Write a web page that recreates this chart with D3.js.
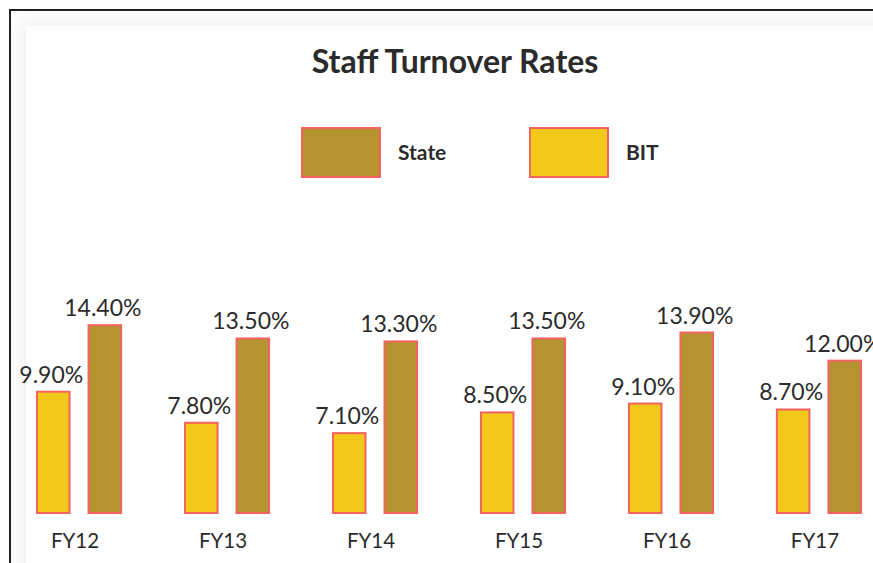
<!DOCTYPE html>
<html>
<head>
<meta charset="utf-8">
<script src="https://cdn.jsdelivr.net/npm/d3@7"></script>
<style>
    html, body { margin: 0; padding: 0; background: #fff; overflow: hidden; }
    #frame {
        position: absolute; left: 9px; top: 9px; width: 900px; height: 600px;
        border-left: 2.5px solid #222; border-top: 2.5px solid #222;
    }
    #card {
        position: absolute; left: 26px; top: 26px; width: 920px; height: 620px;
        background: #fff; box-shadow: 0 0 18px 6px rgba(0, 0, 0, 0.06);
    }
    svg { position: absolute; left: 0; top: 0; }
</style>
</head>
<body>
<div id="frame"></div>
<div id="card"></div>
<svg width="873" height="563"></svg>
<script>
    // data
    let years = ["FY12", "FY13", "FY14", "FY15", "FY16", "FY17"];
    let bitRates = [9.9, 7.8, 7.1, 8.5, 9.1, 8.7];
    let stateRates = [14.4, 13.5, 13.3, 13.5, 13.9, 12.0];
    let seriesNames = ["BIT", "State"];
    let legendNames = ["State", "BIT"];

    let colors = { BIT: "#f2c81a", State: "#b59331" };
    let outline = "#f2625f";

    let svg = d3.select("svg");

    let x = d3.scaleBand()
        .domain(years)
        .range([36, 862])
        .paddingInner(0.418)
        .paddingOuter(0);

    let xSub = d3.scaleBand()
        .domain(seriesNames)
        .range([0, x.bandwidth()])
        .paddingInner(0.33);

    // axis does not start at zero in the original
    let y = d3.scaleLinear()
        .domain([1.7, 15])
        .range([513, 316.3]);

    let rows = years.map(function (yr, i) {
        return { year: yr, BIT: bitRates[i], State: stateRates[i] };
    });

    svg.append("text")
        .attr("x", 455)
        .attr("y", 73)
        .attr("text-anchor", "middle")
        .style("font-family", "Lato")
        .style("font-weight", "bold")
        .style("font-size", "32px")
        .style("fill", "#2b2b2b")
        .text("Staff Turnover Rates");

    // legend
    let legend = svg.append("g").attr("class", "legend");
    legendNames.forEach(function (name, i) {
        let g = legend.append("g").attr("transform", "translate(" + (302 + i * 228) + ",128)");
        g.append("rect")
            .attr("width", 78)
            .attr("height", 49)
            .attr("fill", colors[name])
            .attr("stroke", outline)
            .attr("stroke-width", 2);
        g.append("text")
            .attr("x", 96)
            .attr("y", 32)
            .style("font-family", "Lato")
            .style("font-weight", "bold")
            .style("font-size", "21px")
            .style("fill", "#2b2b2b")
            .text(name);
    });

    let groups = svg.append("g")
        .selectAll("g")
        .data(rows)
        .enter()
        .append("g")
        .attr("transform", function (d) { return "translate(" + x(d.year) + ",0)"; });

    groups.selectAll("rect")
        .data(function (d) { return seriesNames.map(function (k) { return { key: k, value: d[k] }; }); })
        .enter()
        .append("rect")
        .attr("x", function (d) { return xSub(d.key) + 1; })
        .attr("y", function (d) { return y(d.value); })
        .attr("width", xSub.bandwidth() - 2)
        .attr("height", function (d) { return y.range()[0] - y(d.value); })
        .attr("fill", function (d) { return colors[d.key]; })
        .attr("stroke", outline)
        .attr("stroke-width", 2);

    groups.selectAll("text.value")
        .data(function (d) { return seriesNames.map(function (k) { return { key: k, value: d[k] }; }); })
        .enter()
        .append("text")
        .attr("class", "value")
        .attr("x", function (d) { return xSub(d.key) + xSub.bandwidth() / 2 - 2; })
        .attr("y", function (d) { return y(d.value) - 9; })
        .attr("text-anchor", "middle")
        .style("font-family", "Lato")
        .style("font-size", "23px")
        .style("fill", "#2b2b2b")
        .text(function (d) { return d.value.toFixed(2) + "%"; });

    let xAxis = svg.append("g")
        .attr("transform", "translate(-4,548)")
        .call(d3.axisBottom(x).tickSize(0).tickPadding(0));
    xAxis.select(".domain").remove();
    xAxis.selectAll("text")
        .attr("dy", "0")
        .style("font-family", "Lato")
        .style("font-size", "20.5px")
        .style("fill", "#2b2b2b");
</script>
</body>
</html>
